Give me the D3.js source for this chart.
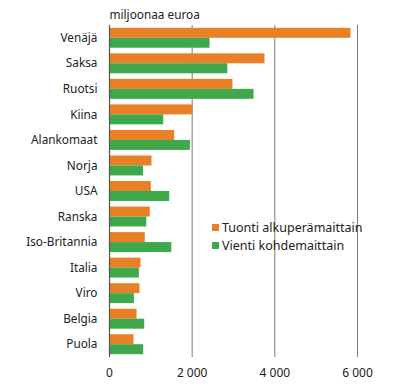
<!DOCTYPE html>
<html>
<head>
<meta charset="utf-8">
<script src="https://cdn.jsdelivr.net/npm/d3@7"></script>
<style>
  body { margin: 0; background: #fff; }
  text { font-family: "Noto Sans", sans-serif; }
</style>
</head>
<body>
<div id="chart"></div>
<script>
(function () {

  const countries = ['Venäjä', 'Saksa', 'Ruotsi', 'Kiina', 'Alankomaat', 'Norja', 'USA',
    'Ranska', 'Iso-Britannia', 'Italia', 'Viro', 'Belgia', 'Puola']
  // tuonti alkuperämaittain, milj. euroa
  const imports = [5830, 3750, 2975, 2010, 1565, 1015, 1000, 975, 855, 750, 725, 655, 580]
  // vienti kohdemaittain
  const exports = [2420, 2850, 3485, 1300, 1945, 810, 1445, 890, 1495, 710, 590, 840, 815]
  const ticks = [0, 2000, 4000, 6000]
  const seriesNames = ['Tuonti alkuperämaittain', 'Vienti kohdemaittain']
  const colors = ['#e98025', '#3ea84a']

  const W = 400, H = 389
  const margin = { top: 25, right: 42, bottom: 32, left: 109.5 }
  const width = W - margin.left - margin.right
  const height = H - margin.top - margin.bottom

  const svg = d3.select('#chart').append('svg')
      .attr('width', W)
      .attr('height', H)
    .append('g')
      .attr('transform', 'translate(' + margin.left + ',' + margin.top + ')')

  const x = d3.scaleLinear().domain([0, 6000]).range([0, 248])

  const y = d3.scaleBand()
    .domain(countries)
    .range([0, height])
    .paddingInner(0.22)
    .paddingOuter(0.11)

  const ySub = d3.scaleBand()
    .domain([0, 1])
    .range([0, y.bandwidth()])

  // gridlines
  svg.selectAll('.grid')
    .data(ticks.slice(1))
    .join('line')
      .attr('class', 'grid')
      .attr('x1', d => x(d)).attr('x2', d => x(d))
      .attr('y1', 0).attr('y2', height)
      .attr('stroke', '#7a7a7a')
      .attr('stroke-width', 1)

  const data = countries.map((c, i) => ({ country: c, values: [imports[i], exports[i]] }))

  const groups = svg.selectAll('.country')
    .data(data)
    .join('g')
      .attr('class', 'country')
      .attr('transform', d => 'translate(0,' + y(d.country) + ')')

  groups.selectAll('rect')
    .data(d => d.values.map((v, k) => ({ v, k })))
    .join('rect')
      .attr('x', 0.5)
      .attr('y', d => ySub(d.k))
      .attr('width', d => x(d.v) - 0.5)
      .attr('height', ySub.bandwidth())
      .attr('fill', d => colors[d.k])

  // zero axis line
  svg.append('line')
    .attr('x1', 0).attr('x2', 0)
    .attr('y1', 0).attr('y2', height)
    .attr('stroke', '#555')
    .attr('stroke-width', 1.2)

  // category labels
  svg.selectAll('.cat')
    .data(countries)
    .join('text')
      .attr('class', 'cat')
      .attr('x', -12)
      .attr('y', d => y(d) + y.bandwidth() / 2)
      .attr('dy', '0.35em')
      .attr('text-anchor', 'end')
      .attr('font-size', 11.8)
      .attr('fill', '#222')
      .text(d => d)

  // x tick labels
  svg.selectAll('.tick-label')
    .data(ticks)
    .join('text')
      .attr('class', 'tick-label')
      .attr('x', d => x(d))
      .attr('y', height + 20)
      .attr('text-anchor', 'middle')
      .attr('font-size', 12)
      .attr('fill', '#222')
      .text(d => d3.format(',')(d).replace(',', ' '))

  // unit
  svg.append('text')
    .attr('x', 0)
    .attr('y', -6)
    .attr('font-size', 11.8)
    .attr('fill', '#222')
    .text('miljoonaa euroa')

  // legend
  const legend = svg.append('g')
    .attr('transform', 'translate(' + (212 - margin.left) + ',' + (224 - margin.top) + ')')

  const items = legend.selectAll('g')
    .data(seriesNames)
    .join('g')
      .attr('transform', (d, i) => 'translate(0,' + i * 18 + ')')

  items.append('rect')
    .attr('width', 7).attr('height', 7)
    .attr('fill', (d, i) => colors[i])

  items.append('text')
    .attr('x', 10)
    .attr('y', 3.5)
    .attr('dy', '0.35em')
    .attr('font-size', 12.5)
    .attr('fill', '#222')
    .text(d => d)

})();
</script>
</body>
</html>
